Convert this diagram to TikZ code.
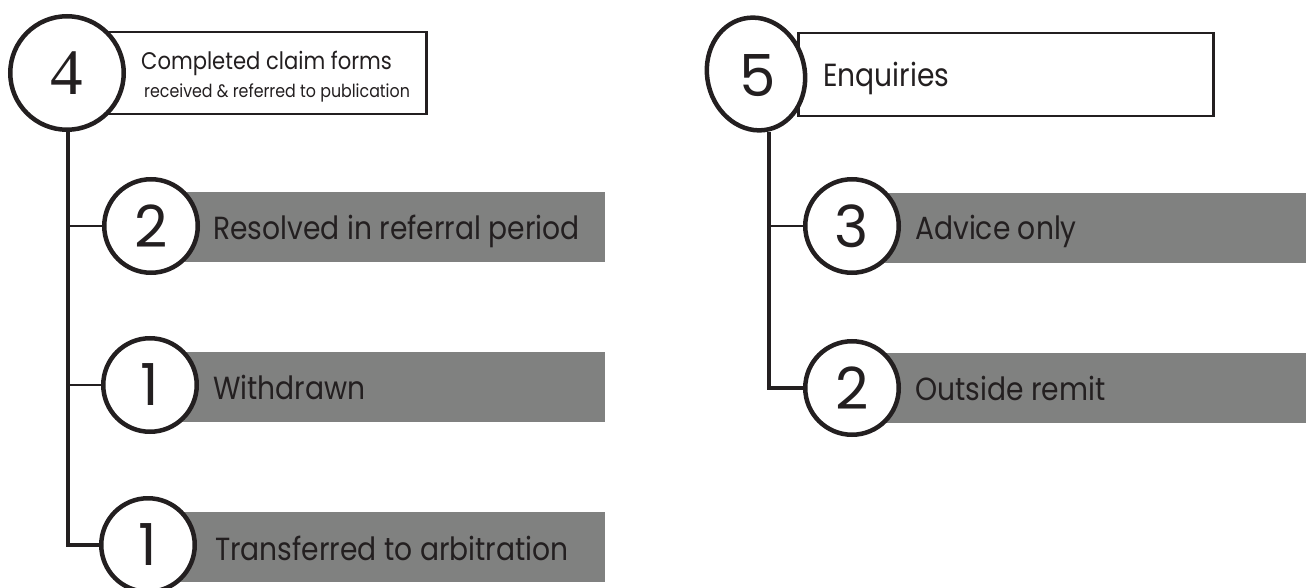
\documentclass[tikz,border=0pt]{standalone}
\usepackage{fontspec}
\setmainfont[FakeStretch=0.88]{Poppins}
\newfontfamily\digitfont{Poppins}
\newfontfamily\serifdigit{Liberation Serif}
\usetikzlibrary{shapes.geometric}
\definecolor{bargray}{RGB}{128,129,128}
\definecolor{ink}{RGB}{35,31,32}
\pgfdeclarelayer{barlayer}
\pgfdeclarelayer{linelayer}
\pgfsetlayers{barlayer,linelayer,main}
\begin{document}
\begin{tikzpicture}[x=1pt,y=-1pt,
  ring/.style={circle, draw=ink, line width=4.5pt, fill=white, minimum size=93.5pt, inner sep=0pt},
  bigring/.style={circle, draw=ink, line width=4.5pt, fill=white, minimum size=113.5pt, inner sep=0pt},
  digit/.style={text=ink, inner sep=0pt, font=\digitfont\fontsize{58}{58}\selectfont},
  frame/.style={draw=ink, line width=2.5pt, fill=white, inner sep=0pt, anchor=north west},
  bar/.style={fill=bargray, inner sep=0pt, anchor=north west, minimum height=70pt},
  bartext/.style={text=ink, inner sep=0pt, anchor=base west, font=\fontsize{32}{32}\selectfont},
  small/.style={text=ink, inner sep=0pt, anchor=base west, font=\fontsize{18}{18}\selectfont},
  trunk/.style={draw=ink, line width=4.5pt},
  twig/.style={draw=ink, line width=2.5pt}
]
\useasboundingbox (0,0) rectangle (1306,588);
% bars
\begin{pgfonlayer}{barlayer}
\node[bar, minimum width=430pt] (bar1) at (175,192) {};
\node[bar, minimum width=430pt] (bar2) at (175,352) {};
\node[bar, minimum width=430pt] (bar3) at (175,512) {};
\node[bar, minimum width=440pt] (bar4) at (866,193) {};
\node[bar, minimum width=440pt] (bar5) at (866,353) {};
\end{pgfonlayer}
% header frames
\node[frame, minimum width=325pt, minimum height=82pt] (box4) at (100,31) {};
\node[frame, minimum width=415pt, minimum height=83pt] (box5) at (797,32) {};
% circles
\node[bigring] (c4) at (67,73) {};
\node[ellipse, draw=ink, line width=4.5pt, fill=white, minimum width=97.5pt, minimum height=113.5pt, inner sep=0pt, rotate=13] (c5) at (756,74) {};
\node[ring] (k1) at (151,226) {};
\node[ring] (k2) at (150,385) {};
\node[ring] (k3) at (148,545) {};
\node[ring] (m1) at (852,226) {};
\node[ring] (m2) at (852,388) {};
% connectors
\coordinate (t4) at (68,132);
\coordinate (t5) at (769,132);
\begin{pgfonlayer}{linelayer}
\draw[twig] (t4 |- k1.center) -- (k1.center);
\draw[twig] (t4 |- k2.center) -- (k2.center);
\draw[trunk] (t4) |- (k3.center);
\draw[twig] (t5 |- m1.center) -- (m1.center);
\draw[trunk] (t5) |- (m2.center);
\end{pgfonlayer}
% digits
\node[text=ink, inner sep=0pt, font=\serifdigit\fontsize{65}{65}\selectfont] (d4) at (c4) {4};
\node[digit] (d5) at (758,76) {5};
\node[digit] (dk1) at (k1) {2};
\node[digit] (dk2) at (k2) {1};
\node[digit] (dk3) at (k3) {1};
\node[digit] (dm1) at (m1) {3};
\node[digit] (dm2) at (m2) {2};
% texts
\node[bartext, font=\fontsize{24}{24}\selectfont] (t4a) at (141,70) {Completed claim forms};
\node[small] (t4b) at (144,98) {received \& referred to publication};
\node[bartext] (t5a) at (823,87) {Enquiries};
\node[bartext] (l1) at (213,239) {Resolved in referral period};
\node[bartext] (l2) at (213,399) {Withdrawn};
\node[bartext] (l3) at (215,560) {Transferred to arbitration};
\node[bartext] (l4) at (915,240) {Advice only};
\node[bartext] (l5) at (915,400) {Outside remit};
\end{tikzpicture}
\end{document}
